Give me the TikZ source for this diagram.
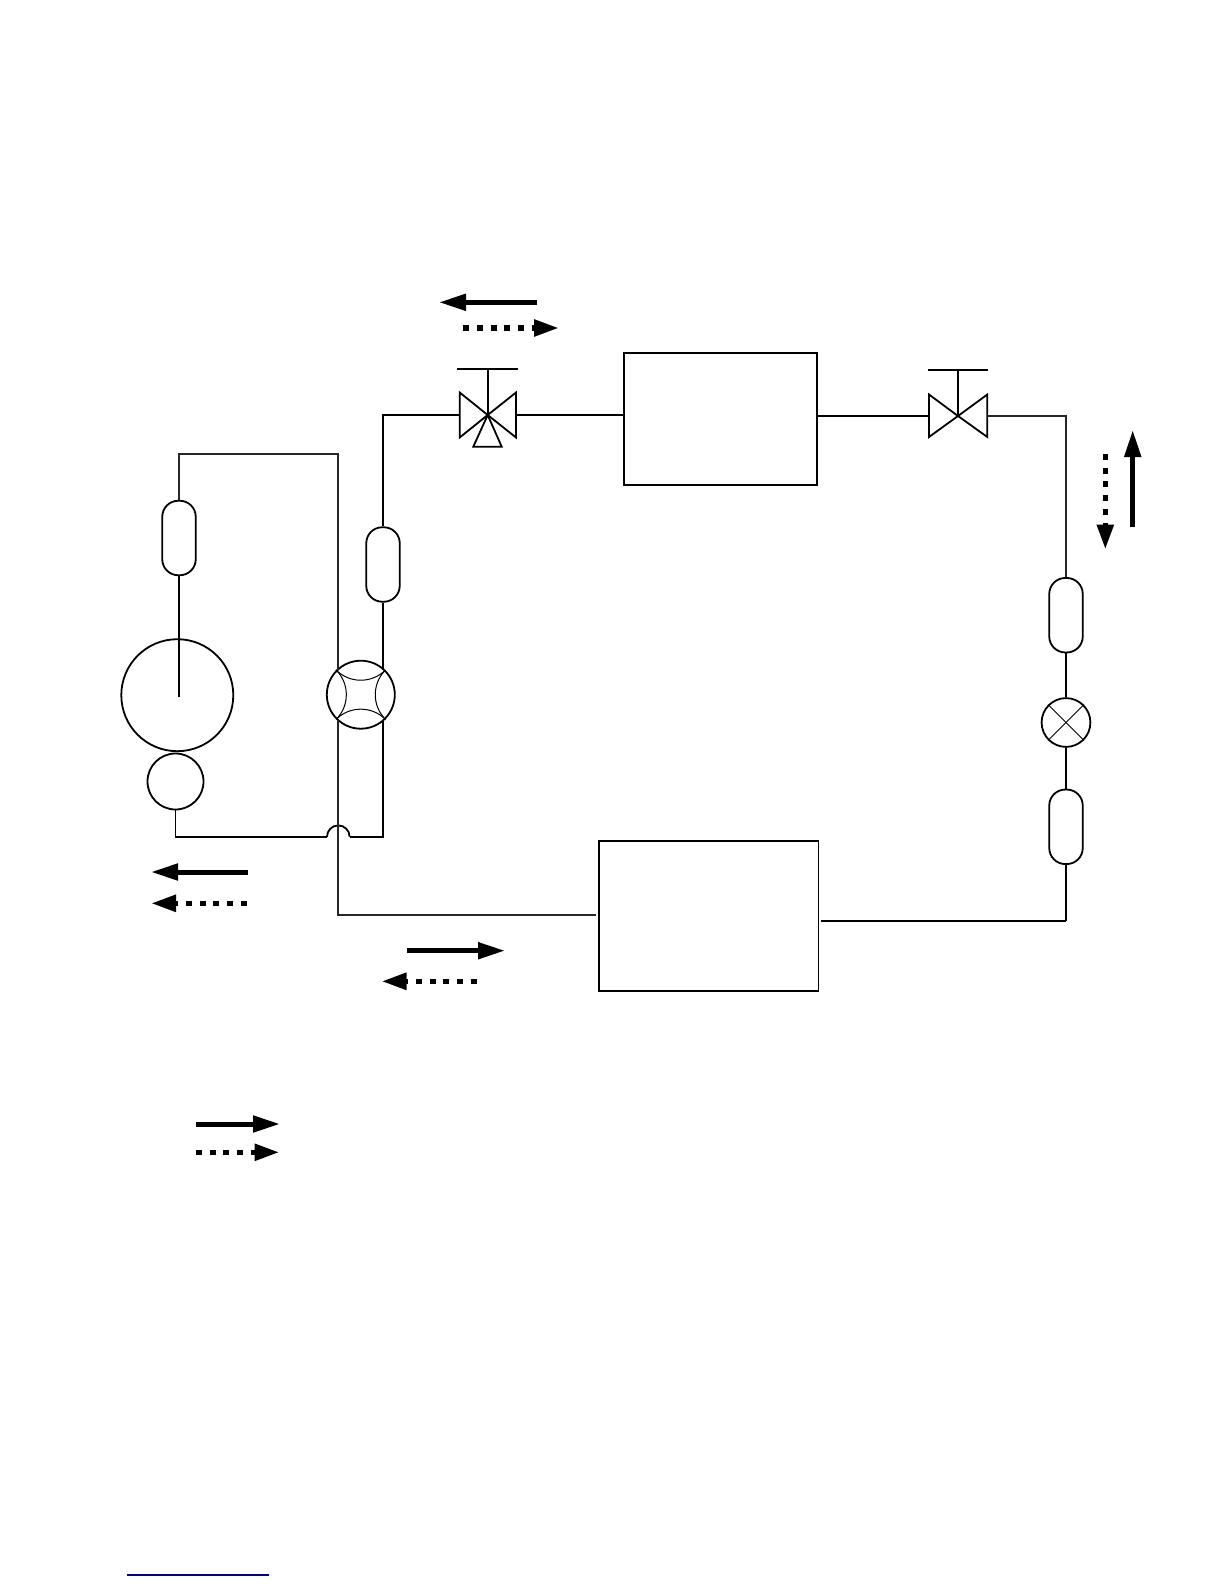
\documentclass[tikz,border=0pt]{standalone}
\usepackage{tikz}
\usetikzlibrary{arrows.meta}
\tikzstyle{flowsolid}=[-{Triangle[length=27pt,width=16pt]},line width=5pt]
\tikzstyle{flowdash}=[-{Triangle[length=25pt,width=16pt]},line width=5.5pt,dash pattern=on 6pt off 7.7pt]
\tikzstyle{thinpipe}=[line width=1.7pt,black!85]
\tikzstyle{unitbox}=[rectangle,draw,inner sep=0]
\tikzstyle{muffler}=[rectangle,draw,rounded corners=16pt,minimum width=33.5pt,minimum height=74.5pt,inner sep=0]
\tikzstyle{ring}=[circle,draw,inner sep=0]
\tikzset{every picture/.style={
    line width=1.8pt,
    x=1pt,y=-1pt
  }
}

\begin{document}
\begin{tikzpicture}
      \useasboundingbox (0,0) rectangle (1224,1584);
      % units
      \node[unitbox,minimum width=193.6pt,minimum height=132.3pt] at (720.5,418.8) (evap) {};
      \node[unitbox,minimum width=219.4pt,minimum height=150.6pt] at (708.7,916) (cond) {};
      % mufflers
      \node[muffler] at (179,538) (mufa) {};
      \node[muffler] at (383,564.5) (mufb) {};
      \node[muffler] at (1066,615.2) (mufc) {};
      \node[muffler] at (1066,826.8) (mufd) {};
      % rings
      \node[ring,minimum size=112pt] at (177.3,695.2) (accum) {};
      \node[ring,minimum size=56pt] at (175.5,781.5) (comp) {};
      \node[ring,minimum size=68pt] at (360.8,694.7) (fourway) {};
      \node[ring,minimum size=48.8pt] at (1066,722.5) (expan) {};
      % valves
      \coordinate (valvea) at (487.7,415);
      \coordinate (valveb) at (958,416);
      \coordinate (stema) at (487.7,369);
      \coordinate (stemb) at (958,369.7);
      \draw (valvea) -- ++(-28,-22.5) -- ++(0,45) coordinate[midway] (valveaW) -- cycle;
      \draw (valvea) -- ++(28.3,-22.5) -- ++(0,45) coordinate[midway] (valveaE) -- cycle;
      \draw (valvea) -- (473.3,446.7) -- (501.7,446.7) -- cycle;
      \draw (valveb) -- ++(-29,-21.5) -- ++(0,42.5) coordinate[midway] (valvebW) -- cycle;
      \draw (valveb) -- ++(29.3,-21.5) -- ++(0,42.5) coordinate[midway] (valvebE) -- cycle;
      \draw (valvea) -- (stema);
      \draw (valveb) -- (stemb);
      \draw (456.7,369) -- (518,369);
      \draw (928.3,369.7) -- (988,369.7);
      % pipes
      \coordinate (revtop) at (338.3,454.3);
      \coordinate (revupper) at (338.3,669.5);
      \coordinate (revlower) at (338.3,719.8);
      \coordinate (revbottom) at (338.3,915);
      \coordinate (condL) at (596,915);
      \coordinate (condR) at (821.3,921);
      \coordinate (mufdcorner) at (1066,921);
      \coordinate (bupper) at (383,669.5);
      \coordinate (blower) at (383,719.8);
      \coordinate (bcorner) at (383,836.7);
      \coordinate (hopR) at (349.6,836.7);
      \coordinate (hopL) at (327,836.7);
      \coordinate (accumin) at (179,697.3);
      \draw (valveaW) -| (mufb.north);
      \draw (mufb.south) -- (bupper);
      \draw (blower) -- (bcorner) -- (hopR);
      \draw (hopR) arc[start angle=0,end angle=-180,radius=11.3];
      \draw (hopL) -| (comp.south);
      \draw (valveaE) -- (valveaE -| evap.west);
      \draw (valvebW -| evap.east) -- (valvebW);
      \draw[thinpipe] (valvebE) -| (mufc.north);
      \draw (mufc.south) -- (expan.north);
      \draw (expan.south) -- (mufd.north);
      \draw (mufd.south) -- (mufdcorner);
      \draw[line width=1.2pt] (mufdcorner) -- (condR);
      \draw[thinpipe] (mufa.north) |- (revtop) -- (revupper);
      \draw (mufa.south) -- (accumin);
      \draw[thinpipe] (revlower) -- (revbottom) -- (condL);
      % four way valve
      \draw[line width=1pt] (fourway.135) to[bend right=45] (fourway.45);
      \draw[line width=1pt] (fourway.45) to[bend right=45] (fourway.315);
      \draw[line width=1pt] (fourway.315) to[bend right=45] (fourway.225);
      \draw[line width=1pt] (fourway.225) to[bend right=45] (fourway.135);
      \draw[line width=1pt] (expan.45) -- (expan.225);
      \draw[line width=1pt] (expan.135) -- (expan.315);
      % flow arrows
      \coordinate (topsa) at (536.7,302.3); \coordinate (topsb) at (439,302.3);
      \coordinate (topda) at (463.3,328); \coordinate (topdb) at (559,328);
      \coordinate (rgtsa) at (1132.7,527.3); \coordinate (rgtsb) at (1132.7,430);
      \coordinate (rgtda) at (1105.3,454); \coordinate (rgtdb) at (1105.3,549.5);
      \coordinate (lftsa) at (248.3,872); \coordinate (lftsb) at (151,872);
      \coordinate (lftda) at (246.7,903.3); \coordinate (lftdb) at (151,903.3);
      \coordinate (botsa) at (407,950.7); \coordinate (botsb) at (505,950.7);
      \coordinate (botda) at (476.7,981.3); \coordinate (botdb) at (381.5,981.3);
      \coordinate (keysa) at (196,1124); \coordinate (keysb) at (280,1124);
      \coordinate (keyda) at (196,1152.3); \coordinate (keydb) at (279.5,1152.3);
      \draw[flowsolid] (topsa) -- (topsb);
      \draw[flowdash] (topda) -- (topdb);
      \draw[flowsolid] (rgtsa) -- (rgtsb);
      \draw[flowdash] (rgtda) -- (rgtdb);
      \draw[flowsolid] (lftsa) -- (lftsb);
      \draw[flowdash] (lftda) -- (lftdb);
      \draw[flowsolid] (botsa) -- (botsb);
      \draw[flowdash] (botda) -- (botdb);
      \draw[flowsolid] (keysa) -- (keysb);
      \draw[flowdash] (keyda) -- (keydb);
      % rule at page foot
      \coordinate (foota) at (126.7,1575);
      \coordinate (footb) at (269,1575);
      \draw[blue!60!black,line width=1.3pt] (foota) -- (footb);
    \end{tikzpicture}
\end{document}
